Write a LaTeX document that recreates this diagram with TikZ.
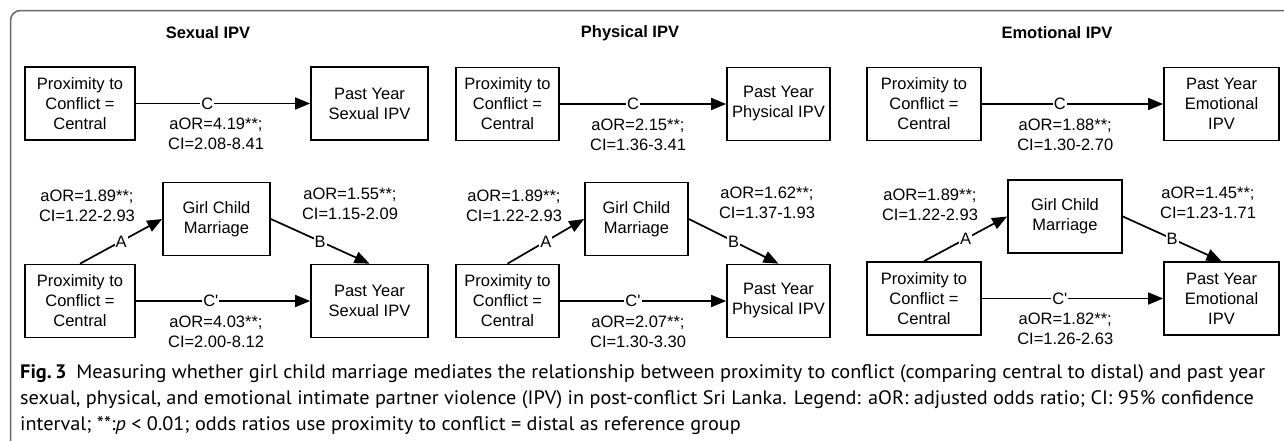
\documentclass[tikz,border=0pt]{standalone}
\usepackage{fontspec}
\setmainfont{Liberation Sans}
\newfontfamily\capfont[FakeStretch=1.04]{PT Sans}
\usetikzlibrary{arrows.meta, positioning}
\tikzstyle{block} = [draw, fill=white, rectangle, line width=1.7pt, align=center, minimum height=73pt, inner sep=2pt]
\tikzstyle{link} = [line width=1.7pt, -{Triangle[length=15pt,width=12pt]}]
\tikzstyle{tag} = [fill=white, inner sep=1pt]
\tikzstyle{coef} = [align=center, inner sep=1pt]
\tikzstyle{capline} = [anchor=base west, inner sep=0pt, font=\capfont\capsize]
\newcommand{\boxfont}{\fontsize{16.5}{20}\selectfont}
\newcommand{\capsize}{\fontsize{19.5}{26}\selectfont}
\newcommand{\Cp}{C\textquotesingle}

\begin{document}
\begin{tikzpicture}[x=1pt, y=-1pt, font=\boxfont]
    \useasboundingbox (0,0) rectangle (1284,440);
    \draw [line width=1.5pt, draw=black!60, rounded corners=10pt] (10.5,445) -- (10.5,10.5) -- (1290,10.5);

    % sexual IPV
    \node [font=\boxfont\bfseries] (t1) at (208,33) {Sexual IPV};
    \node [block, minimum width=110pt] (s1) at (80,103.5) {Proximity to\\Conflict =\\Central};
    \node [block, minimum width=117pt] (s2) at (369.5,103.5) {Past Year\\Sexual IPV};
    \node [block, minimum width=107pt] (s5) at (216.5,219) {Girl Child\\Marriage};
    \node [block, minimum width=110pt] (s3) at (80,301) {Proximity to\\Conflict =\\Central};
    \node [block, minimum width=117pt] (s4) at (369.5,301) {Past Year\\Sexual IPV};
    \draw [link] (s1) -- node [tag, pos=0.41] (s1c) {C} node [coef, below=13pt, pos=0.46] (s1k) {aOR=4.19**;\\CI=2.08-8.41} (s2);
    \draw [link] (s3) -- node [tag, pos=0.43] (s3c) {\Cp} node [coef, below=13pt, pos=0.46] (s3k) {aOR=4.03**;\\CI=2.00-8.12} (s4);
    \draw [link] (s3.north) -- node [tag, pos=0.5] (s3a) {A} (s5.west);
    \draw [link] (s5.east) -- node [tag, pos=0.5] (s5b) {B} (s4.north);
    \node [coef] (s3ak) at (87,206) {aOR=1.89**;\\CI=1.22-2.93};
    \node [coef] (s5bk) at (350,204) {aOR=1.55**;\\CI=1.15-2.09};

    % physical IPV
    \node [font=\boxfont\bfseries] (t2) at (630,33) {Physical IPV};
    \node [block, minimum width=103pt] (p1) at (507.5,104) {Proximity to\\Conflict =\\Central};
    \node [block, minimum width=103pt] (p2) at (778.5,104) {Past Year\\Physical IPV};
    \node [block, minimum width=103pt] (p5) at (636.5,219) {Girl Child\\Marriage};
    \node [block, minimum width=103pt] (p3) at (507.5,301) {Proximity to\\Conflict =\\Central};
    \node [block, minimum width=103pt] (p4) at (778.5,301) {Past Year\\Physical IPV};
    \draw [link] (p1) -- node [tag, pos=0.44] (p1c) {C} node [coef, below=13pt, pos=0.47] (p1k) {aOR=2.15**;\\CI=1.36-3.41} (p2);
    \draw [link] (p3) -- node [tag, pos=0.44] (p3c) {\Cp} node [coef, below=13pt, pos=0.47] (p3k) {aOR=2.07**;\\CI=1.30-3.30} (p4);
    \draw [link] (p3.north) -- node [tag, pos=0.5] (p3a) {A} (p5.west);
    \draw [link] (p5.east) -- node [tag, pos=0.5] (p5b) {B} (p4.north);
    \node [coef] (p3ak) at (514,206) {aOR=1.89**;\\CI=1.22-2.93};
    \node [coef] (p5bk) at (767,203) {aOR=1.62**;\\CI=1.37-1.93};

    % emotional IPV
    \node [font=\boxfont\bfseries] (t3) at (1057,33) {Emotional IPV};
    \node [block, minimum width=114pt] (e1) at (924,104) {Proximity to\\Conflict =\\Central};
    \node [block, minimum width=115pt] (e2) at (1221.5,104) {Past Year\\Emotional\\IPV};
    \node [block, minimum width=114pt] (e5) at (1065,216.5) {Girl Child\\Marriage};
    \node [block, minimum width=114pt] (e3) at (924,298.5) {Proximity to\\Conflict =\\Central};
    \node [block, minimum width=115pt] (e4) at (1221.5,298.5) {Past Year\\Emotional\\IPV};
    \draw [link] (e1) -- node [tag, pos=0.43] (e1c) {C} node [coef, below=13pt, pos=0.46] (e1k) {aOR=1.88**;\\CI=1.30-2.70} (e2);
    \draw [link] (e3) -- node [tag, pos=0.43] (e3c) {\Cp} node [coef, below=13pt, pos=0.46] (e3k) {aOR=1.82**;\\CI=1.26-2.63} (e4);
    \draw [link] (e3.north) -- node [tag, pos=0.5] (e3a) {A} (e5.west);
    \draw [link] (e5.east) -- node [tag, pos=0.5] (e5b) {B} (e4.north);
    \node [coef] (e3ak) at (930,205) {aOR=1.89**;\\CI=1.22-2.93};
    \node [coef] (e5bk) at (1208,203) {aOR=1.45**;\\CI=1.23-1.71};

    % caption
    \node [capline] (cap1) at (20,378) {\textbf{Fig.\,3}\enspace Measuring whether girl child marriage mediates the relationship between proximity to conflict (comparing central to distal) and past year};
    \node [capline] (cap2) at (20,404) {sexual, physical, and emotional intimate partner violence (IPV) in post-conflict Sri Lanka. Legend: aOR: adjusted odds ratio; CI: 95\% confidence};
    \node [capline] (cap3) at (20,430) {interval; **:\textit{p} < 0.01; odds ratios use proximity to conflict = distal as reference group};
\end{tikzpicture}
\end{document}
